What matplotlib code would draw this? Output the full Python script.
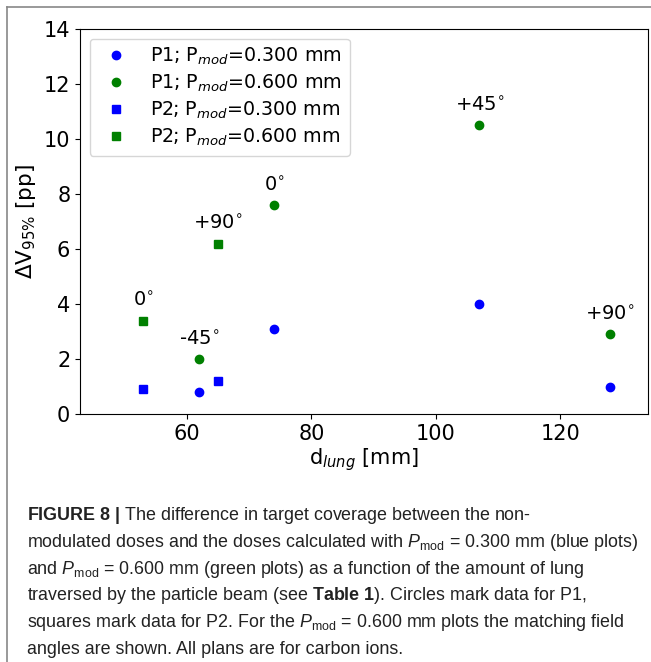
import matplotlib
matplotlib.use("Agg")
import matplotlib.pyplot as plt
from matplotlib.lines import Line2D

# ---- data ----
p1_x = [62, 74, 107, 128]
p1_03 = [0.8, 3.1, 4.0, 1.0]
p1_06 = [2.0, 7.6, 10.5, 2.9]
p1_angles = ["-45", "0", "+45", "+90"]
p2_x = [53, 65]
p2_03 = [0.9, 1.2]
p2_06 = [3.4, 6.2]
p2_angles = ["0", "+90"]
xticks = [60, 80, 100, 120]
yticks = [0, 2, 4, 6, 8, 10, 12, 14]

caption_lines = [
    r"$\bf{FIGURE\ 8\ |}$ The difference in target coverage between the non-",
    r"modulated doses and the doses calculated with $P_{\rm mod}$ = 0.300 mm (blue plots)",
    r"and $P_{\rm mod}$ = 0.600 mm (green plots) as a function of the amount of lung",
    r"traversed by the particle beam (see $\bf{Table\ 1}$). Circles mark data for P1,",
    r"squares mark data for P2. For the $P_{\rm mod}$ = 0.600 mm plots the matching field",
    r"angles are shown. All plans are for carbon ions.",
]

W, H = 651, 662
fig = plt.figure(figsize=(W / 100, H / 100), dpi=100)
ax = fig.add_axes([80 / W, 1 - 414 / H, (648 - 80) / W, (414 - 29) / H])

fs = 15
ax.plot(p1_x, p1_03, 'o', color='blue', ms=6, label=r"P1; P$_{mod}$=0.300 mm")
ax.plot(p1_x, p1_06, 'o', color='green', ms=6, label=r"P1; P$_{mod}$=0.600 mm")
ax.plot(p2_x, p2_03, 's', color='blue', ms=6, label=r"P2; P$_{mod}$=0.300 mm")
ax.plot(p2_x, p2_06, 's', color='green', ms=6, label=r"P2; P$_{mod}$=0.600 mm")

for x, y, a in list(zip(p1_x, p1_06, p1_angles)) + list(zip(p2_x, p2_06, p2_angles)):
    ax.annotate(a + r"$^{\circ}$", (x, y), xytext=(0, 7), textcoords='offset points',
                ha='center', va='bottom', fontsize=14)

ax.set_xlim(42.8, 134.1)
ax.set_ylim(0, 14)
ax.set_xticks(xticks)
ax.set_yticks(yticks)
ax.tick_params(labelsize=fs)
ax.set_xlabel(r"d$_{lung}$ [mm]", fontsize=fs, labelpad=2)
ax.set_ylabel(r"ΔV$_{95\%}$ [pp]", fontsize=15.5, labelpad=4)
ax.legend(loc='upper left', fontsize=13.7, numpoints=1, handletextpad=0.8,
          labelspacing=0.3)

# border
fig.add_artist(Line2D([7 / W, 7 / W], [0, 1 - 7 / H], color='#888888', lw=1.2,
                      transform=fig.transFigure))
fig.add_artist(Line2D([7 / W, 1], [1 - 7 / H, 1 - 7 / H], color='#888888', lw=1.2,
                      transform=fig.transFigure))

plt.rcParams['mathtext.fontset'] = 'custom'
plt.rcParams['mathtext.rm'] = 'Liberation Sans'
plt.rcParams['mathtext.it'] = 'Liberation Sans:italic'
plt.rcParams['mathtext.bf'] = 'Liberation Sans:bold'

base = 520
for i, line in enumerate(caption_lines):
    fig.text(27 / W, 1 - (base + i * 26.8) / H, line, fontsize=12.9,
             family=['Liberation Sans'],
             math_fontfamily='custom', va='baseline', ha='left', color='#222222')

fig.savefig("out.png", dpi=100)
